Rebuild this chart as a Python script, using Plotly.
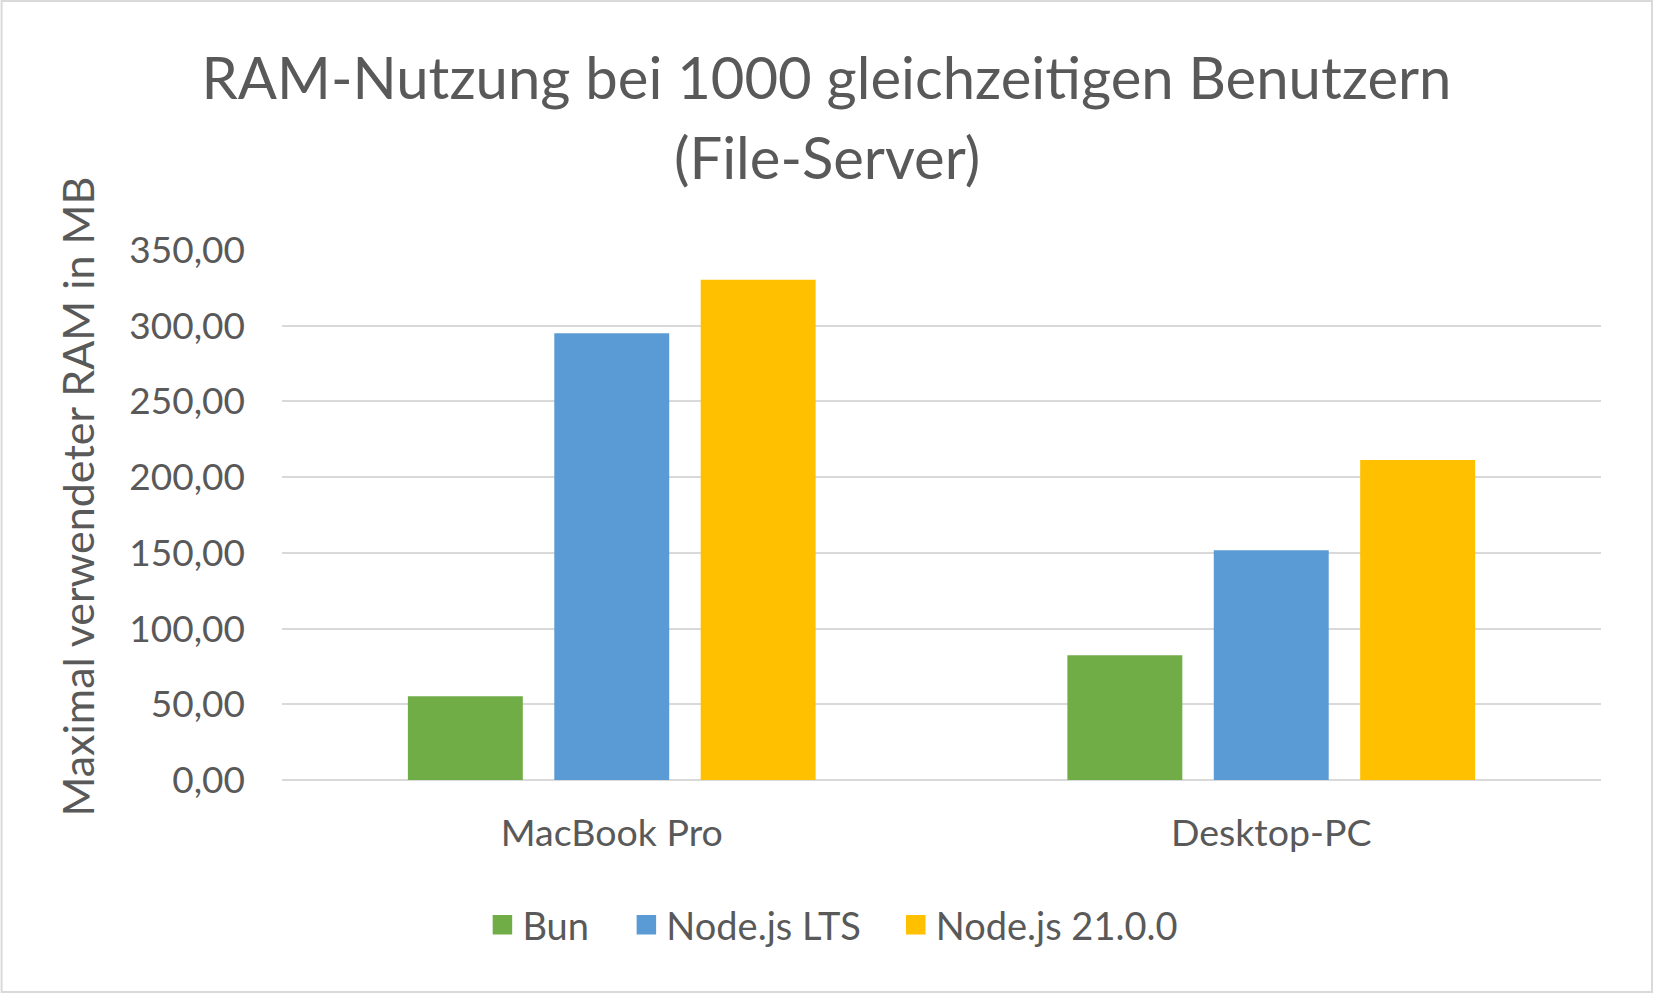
import plotly.graph_objects as go

categories = ["MacBook Pro", "Desktop-PC"]
series_names = ["Bun", "Node.js LTS", "Node.js 21.0.0"]
bun = [55.3, 82.4]
node_lts = [295.0, 151.8]
node_21 = [330.3, 211.3]
colors = ["#70AD47", "#5B9BD5", "#FFC000"]
y_ticks = [0, 50, 100, 150, 200, 250, 300, 350]
y_tick_labels = ["0,00", "50,00", "100,00", "150,00", "200,00", "250,00", "300,00", "350,00"]

FONT = "Lato"
GRAY = "#595959"

W, H = 1653, 993
L, R, T, B = 281.5, 52, 250, 213
pw = W - L - R
ph = H - T - B

fig = go.Figure()
for name, vals, col in zip(series_names, [bun, node_lts, node_21], colors):
    fig.add_trace(go.Bar(x=categories, y=vals, name=name, marker_color=col,
                         marker_line_width=0, showlegend=False))

# legend entries (one legend per entry so the spacing can match)
legend_ids = ["legend", "legend2", "legend3"]
square_centers = [503, 647, 916.5]  # pixel x of legend squares
for name, col, lid in zip(series_names, colors, legend_ids):
    fig.add_trace(go.Scatter(x=[None], y=[None], mode="markers", name=name,
                             marker=dict(symbol="square", size=16, color=col,
                                         line=dict(color=col, width=3.5)),
                             showlegend=True, legend=lid))

leg_common = dict(orientation="h", xanchor="left", yanchor="middle",
                  y=(780 - 925) / ph, itemsizing="trace",
                  bgcolor="rgba(0,0,0,0)",
                  font=dict(size=38, color=GRAY, family=FONT))
legends = {}
for lid, cx in zip(legend_ids, square_centers):
    legends[lid] = dict(leg_common, x=(cx - 20 - 1 - L) / pw)

fig.update_layout(
    width=W, height=H,
    margin=dict(l=L, r=R, t=T, b=B),
    paper_bgcolor="white", plot_bgcolor="white",
    font=dict(family=FONT, color=GRAY),
    barmode="group", bargap=0.334, bargroupgap=0.215,
    title=dict(text="RAM-Nutzung bei 1000 gleichzeitigen Benutzern",
               x=0.5, xanchor="center", xref="container",
               y=1 - 79 / H, yanchor="middle", yref="container",
               font=dict(size=58, color=GRAY, family=FONT)),
    showlegend=True,
    xaxis=dict(showgrid=False, showline=False, ticks="",
               tickfont=dict(size=37.5, color=GRAY, family=FONT),
               ticklabelstandoff=27),
    yaxis=dict(range=[0, 350], tickvals=y_ticks, ticktext=y_tick_labels,
               showgrid=True, gridcolor="#D9D9D9", gridwidth=1.5,
               zeroline=True, zerolinecolor="#D9D9D9", zerolinewidth=1.5,
               showline=False, ticks="",
               tickfont=dict(size=37, color=GRAY, family=FONT),
               ticklabelstandoff=36),
    shapes=[dict(type="rect", xref="paper", yref="paper",
                 x0=(1 - L) / pw, x1=(W - 1 - L) / pw,
                 y0=-(B - 1) / ph, y1=1 + (T - 1) / ph,
                 line=dict(color="#D9D9D9", width=2), fillcolor="rgba(0,0,0,0)",
                 layer="below")],
    annotations=[
        dict(text="(File-Server)", xref="paper", yref="paper",
             x=(826.5 - L) / pw, y=(780 - 156) / ph,
             xanchor="center", yanchor="middle", showarrow=False,
             font=dict(size=58, color=GRAY, family=FONT)),
        dict(text="Maximal verwendeter RAM in MB", textangle=-90,
             xref="paper", yref="paper",
             x=(76 - L) / pw, y=(780 - 497) / ph,
             xanchor="center", yanchor="middle", showarrow=False,
             font=dict(size=43, color=GRAY, family=FONT)),
    ],
    **legends,
)

fig.write_html("out.html")
